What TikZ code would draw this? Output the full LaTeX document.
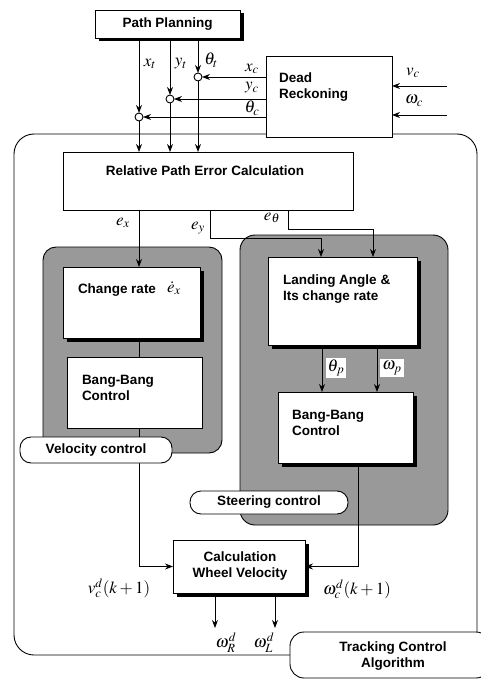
\documentclass[tikz,border=0pt]{standalone}
\usepackage{mathptmx}
\usepackage{fontspec}
\setmainfont{Liberation Serif}
\setsansfont{Liberation Sans}
\usetikzlibrary{arrows.meta,shadows,calc}
\begin{document}
\begin{tikzpicture}[x=1pt,y=-1pt,
  every node/.style={inner sep=0pt,outer sep=0pt},
  blk/.style={draw,fill=white,line width=0.9pt,rectangle},
  shd/.style={drop shadow={shadow xshift=3.5pt,shadow yshift=-3.5pt,fill=black,opacity=1}},
  txt/.style={font=\sffamily\bfseries\fontsize{13.5}{16.5}\selectfont,align=left},
  ctxt/.style={txt,align=center},
  lab/.style={font=\fontsize{17}{19}\selectfont},
  sumpt/.style={circle,draw,fill=white,line width=0.9pt,minimum size=8pt},
  arr/.style={line width=0.9pt,-{Stealth[length=8pt,width=6pt]}},
  ln/.style={line width=0.9pt},
  region/.style={draw,line width=0.9pt,fill=black!40,rounded corners=13pt},
  pill/.style={draw,fill=white,line width=0.9pt,rounded corners=11pt}]
\useasboundingbox (0,0) rectangle (480,679);

% overall tracking control frame
\draw[line width=0.9pt,rounded corners=20pt] (14,134) rectangle (477,655);

% shaded control groups
\draw[region] (43,247) rectangle (222,453);
\draw[region,rounded corners=15pt] (240,235) rectangle (448,525);

% blocks
\node[blk,shd,minimum width=145pt,minimum height=28pt] (pp) at (167.5,24) {};
\node[blk,minimum width=126pt,minimum height=81pt] (dr) at (329,96.5) {};
\node[blk,minimum width=290pt,minimum height=58pt] (rpe) at (208,181) {};
\node[blk,shd,minimum width=137pt,minimum height=71pt] (cr) at (131.5,302.5) {};
\node[blk,minimum width=135pt,minimum height=71pt] (bbl) at (134.5,392.5) {};
\node[blk,shd,minimum width=149pt,minimum height=88pt] (la) at (342.5,301) {};
\node[blk,shd,minimum width=135pt,minimum height=71pt] (bbr) at (345.5,427.5) {};
\node[blk,shd,minimum width=132pt,minimum height=53pt] (calc) at (239,566.5) {};

% block texts
\node[ctxt] (tpp) at (167.5,24) {Path Planning};
\node[txt,anchor=west] (tdr) at (279,87) {Dead\\Reckoning};
\node[ctxt] (trpe) at (205,171) {Relative Path Error Calculation};
\node[txt,anchor=west] (tcr) at (78,290) {Change rate};
\node[lab] (tex) at (174,288) {$\dot e_x$};
\node[txt,anchor=west] (tbbl) at (82,388) {Bang-Bang\\Control};
\node[txt,anchor=west] (tla) at (283,289) {Landing Angle \&\\Its change rate};
\node[txt,anchor=west] (tbbr) at (292,423) {Bang-Bang\\Control};
\node[ctxt] (tcalc) at (240,566) {Calculation\\Wheel Velocity};

% summing junctions
\node[sumpt] (sx) at (139,117) {};
\node[sumpt] (sy) at (170,99) {};
\node[sumpt] (st) at (198,77) {};

% path planning outputs into the junctions
\draw[arr] (sx |- pp.south) -- (sx.north);
\draw[arr] (sy |- pp.south) -- (sy.north);
\draw[arr] (st |- pp.south) -- (st.north);

% dead reckoning outputs into the junctions
\draw[arr] (dr.west |- st) -- (st.east);
\draw[arr] (dr.west |- sy) -- (sy.east);
\draw[arr] (dr.west |- sx) -- (sx.east);

% dead reckoning inputs
\coordinate (vin) at (447,86);
\coordinate (win) at (447,115);
\draw[arr] (vin) -- (vin -| dr.east);
\draw[arr] (win) -- (win -| dr.east);

% junctions into error calculation
\draw[arr] (sx.south) -- (sx |- rpe.north);
\draw[arr] (sy.south) -- (sy |- rpe.north);
\draw[arr] (st.south) -- (st |- rpe.north);

% velocity branch
\draw[arr] (sx |- rpe.south) -- (sx |- cr.north);
\draw[ln] (sx |- cr.south) -- (sx |- bbl.north);
\draw[arr] (sx |- bbl.south) |- (calc.west);

% steering branch
\draw[arr] ([xshift=2pt]rpe.south) -- ++(0,28) -| ([xshift=-21.5pt]la.north);
\draw[arr] ([xshift=80pt]rpe.south) -- ++(0,19) -| ([xshift=30.5pt]la.north);
\draw[arr] ([xshift=-20.5pt]la.south) -- ([xshift=-20.5pt]la.south |- bbr.north);
\draw[arr] ([xshift=34.5pt]la.south) -- ([xshift=34.5pt]la.south |- bbr.north);
\draw[arr] ([xshift=12.5pt]bbr.south) |- (calc.east);

% wheel velocity outputs
\draw[arr] ([xshift=-24pt]calc.south) -- ++(0,35) coordinate (wr);
\draw[arr] ([xshift=36pt]calc.south) -- ++(0,35) coordinate (wl);

% group labels
\node[pill,minimum width=152pt,minimum height=26pt] (pv) at (96,450) {};
\node[ctxt] (tpv) at (96,450) {Velocity control};
\node[pill,minimum width=158pt,minimum height=23pt] (ps) at (269,502.5) {};
\node[ctxt] (tps) at (269,502) {Steering control};
\node[pill,rounded corners=14pt,minimum width=200pt,minimum height=46pt] (pt) at (390,655) {};
\node[ctxt] (tpt) at (393,656) {Tracking Control\\Algorithm};

% signal labels
\node[lab] (lxt) at (150,64) {$x_t$};
\node[lab] (lyt) at (181,64) {$y_t$};
\node[lab] (lth) at (211,60) {$\theta_t$};
\node[lab] (lxc) at (252,69) {$x_c$};
\node[lab] (lyc) at (252,88) {$y_c$};
\node[lab] (ltc) at (252,108) {$\theta_c$};
\node[lab] (lvc) at (413,73) {$v_c$};
\node[lab] (lwc) at (414,101) {$\omega_c$};
\node[lab] (lex) at (123,223) {$e_x$};
\node[lab] (ley) at (198,228) {$e_y$};
\node[lab] (let) at (272,218) {$e_\theta$};
\node[lab,fill=white,inner sep=2pt] (ltp) at (336,368) {$\theta_p$};
\node[lab,fill=white,inner sep=2pt] (lwp) at (392,368) {$\omega_p$};
\node[lab] (lvd) at (119,588) {$v_c^d(k+1)$};
\node[lab] (lwd) at (357,589) {$\omega_c^d(k+1)$};
\node[lab] (lwr) at (226,643) {$\omega_R^d$};
\node[lab] (lwl) at (264,643) {$\omega_L^d$};
\end{tikzpicture}
\end{document}
